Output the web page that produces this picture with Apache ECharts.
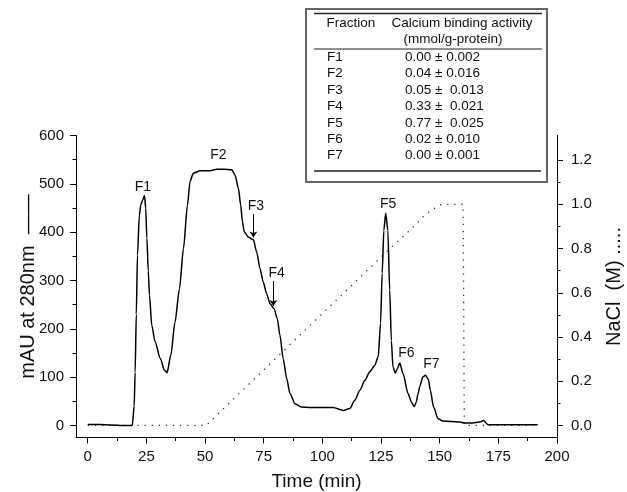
<!DOCTYPE html>
<html><head><meta charset="utf-8">
<script src="https://cdn.jsdelivr.net/npm/echarts@6/dist/echarts.min.js"></script>
<style>html,body{margin:0;padding:0;background:#fff}#c{width:627px;height:492px}</style>
</head><body><div id="c"></div>
<script>
// ---- data ----
const timeMin = [
  0, 5, 10, 15, 19, 19.8, 20.2, 20.7, 21.2, 22,
  22.6, 23.4, 24.2, 24.7, 25.2, 25.8, 26.3, 27.3, 28.7, 30.9,
  32.7, 33.8, 35.4, 37.2, 39.1, 40.8, 42.5, 43.6, 45, 47.9,
  52, 55, 58, 61.4, 62.8, 64.2, 65.2, 65.9, 66.7, 68.4,
  70.6, 72, 73.4, 74.8, 76.2, 77.7, 79.4, 80.8, 81.9, 83.3,
  84.8, 86.2, 88.3, 91.1, 95, 100, 104.6, 108.9, 111.7, 113.8,
  116, 118.1, 120.2, 122.3, 123.8, 124.8, 125.5, 126.2, 127, 127.9,
  128.7, 129.4, 130.1, 131.1, 132, 133, 134.4, 136.5, 138, 139.1,
  140, 140.8, 141.5, 142.8, 144, 145.2, 146, 147.4, 149.3, 151.4,
  155, 158.5, 160.6, 164, 167, 168.7, 170.6, 175, 180, 185, 191.8
];
const absorbance = [
  2, 2, 1, 0, 0, 40, 110, 230, 353, 435,
  456, 466, 476, 450, 388, 320, 270, 207, 173, 139,
  114, 109, 145, 214, 283, 366, 456, 505, 522, 527,
  527, 530, 530, 529, 518, 491, 456, 422, 401, 390,
  384, 359, 325, 297, 273, 252, 242, 221, 187, 138,
  97, 66, 45, 38, 37, 37, 37, 31, 35, 52,
  73, 93, 111, 124, 142, 211, 315, 404, 439, 404,
  280, 176, 121, 108, 118, 129, 107, 66, 48, 39,
  48, 66, 80, 100, 104, 95, 73, 38, 14, 9,
  8, 7, 5, 5, 7, 10, 1.5, 1.5, 1.5, 1.5, 1.5
];
const gradTime = [0, 50.5, 60, 70, 80, 90, 100, 110, 120, 130, 137, 140, 143, 146, 149, 151, 160, 160.5, 192];
const naclM    = [0, 0, 0.098, 0.2, 0.302, 0.404, 0.506, 0.608, 0.71, 0.812, 0.88, 0.91, 0.945, 0.97, 0.99, 1.0, 1.0, 0, 0];

const xMajorTicks = [0, 25, 50, 75, 100, 125, 150, 175, 200];
const xMinorTicks = [12.5, 37.5, 62.5, 87.5, 112.5, 137.5, 162.5, 187.5];
const leftMajorTicks = [0, 100, 200, 300, 400, 500, 600];
const leftMinorTicks = [50, 150, 250, 350, 450, 550];
const rightMajorTicks = [0, 0.2, 0.4, 0.6, 0.8, 1.0, 1.2];
const rightMinorTicks = [0.1, 0.3, 0.5, 0.7, 0.9, 1.1];

const fractionNames = ['F1', 'F2', 'F3', 'F4', 'F5', 'F6', 'F7'];
const bindingActivity = ['0.00 \u00b1 0.002', '0.04 \u00b1 0.016', '0.05 \u00b1  0.013', '0.33 \u00b1  0.021', '0.77 \u00b1  0.025', '0.02 \u00b1 0.010', '0.00 \u00b1 0.001'];
const peakNames = ['F1', 'F2', 'F3', 'F4', 'F5', 'F6', 'F7'];

// ---- build ----
const FONT = '"Liberation Sans", Arial, Helvetica, sans-serif';
const absData = timeMin.map((t, i) => [t, absorbance[i]]);
const gradData = gradTime.map((t, i) => [t, naclM[i]]);

const peakCoords = [[23.5, 494], [55.7, 560], [71.7, 453], [80.5, 315], [128, 458], [135.8, 150], [146.5, 126.5]];
const arrows = [
  [[70.6, 437], [70.6, 389]],
  [[79.1, 299], [79.1, 247]]
];

const axisTextStyle = { color: '#111', fontSize: 15, fontFamily: FONT };
const lineBlack = { lineStyle: { color: '#000', width: 1 } };

const gl = [];
// table box
gl.push({ type: 'rect', shape: { x: 306, y: 9, width: 241, height: 173 }, style: { fill: '#fff', stroke: '#666', lineWidth: 2 } });
gl.push({ type: 'line', shape: { x1: 314, y1: 13.5, x2: 542, y2: 13.5 }, style: { stroke: '#222', lineWidth: 1.5 } });
gl.push({ type: 'line', shape: { x1: 314, y1: 49, x2: 542, y2: 49 }, style: { stroke: '#222', lineWidth: 1.2 } });
gl.push({ type: 'line', shape: { x1: 314, y1: 171, x2: 541, y2: 171 }, style: { stroke: '#222', lineWidth: 1.5 } });
const tfs = 13.5;
gl.push({ type: 'text', x: 326.5, y: 23, style: { text: 'Fraction', fontSize: tfs, fontFamily: FONT, fill: '#111', verticalAlign: 'middle', align: 'left' } });
gl.push({ type: 'text', x: 462, y: 23, style: { text: 'Calcium binding activity', fontSize: tfs, fontFamily: FONT, fill: '#111', verticalAlign: 'middle', align: 'center' } });
gl.push({ type: 'text', x: 453, y: 39.5, style: { text: '(mmol/g-protein)', fontSize: tfs, fontFamily: FONT, fill: '#111', verticalAlign: 'middle', align: 'center' } });
fractionNames.forEach((f, i) => {
  const y = 57.3 + i * 16.4;
  gl.push({ type: 'text', x: 327, y: y, style: { text: f, fontSize: tfs, fontFamily: FONT, fill: '#111', verticalAlign: 'middle', align: 'left' } });
  gl.push({ type: 'text', x: 405, y: y, style: { text: bindingActivity[i], fontSize: tfs, fontFamily: FONT, fill: '#111', verticalAlign: 'middle', align: 'left' } });
});

const option = {
  animation: false,
  backgroundColor: '#fff',
  grid: { left: 76, right: 70, top: 135.5, bottom: 54.5, containLabel: false, outerBoundsMode: 'none' },
  xAxis: [
    {
      type: 'value', min: -5, max: 200, position: 'bottom',
      name: 'Time (min)', nameLocation: 'middle', nameGap: 35, nameMoveOverlap: false,
      nameTextStyle: { color: '#111', fontSize: 19, fontFamily: FONT },
      axisLine: { show: true, ...lineBlack, onZero: false },
      axisTick: { show: true, length: 6, customValues: xMajorTicks, ...lineBlack },
      axisLabel: { customValues: xMajorTicks, margin: 12, ...axisTextStyle },
      splitLine: { show: false }
    },
    {
      type: 'value', min: -5, max: 200, position: 'bottom',
      axisLine: { show: false, onZero: false },
      axisTick: { show: true, length: 3.5, customValues: xMinorTicks, ...lineBlack },
      axisLabel: { show: false },
      splitLine: { show: false }
    }
  ],
  yAxis: [
    {
      type: 'value', min: -25, max: 600, position: 'left',
      name: 'mAU at 280nm  \u2014\u2014', nameLocation: 'middle', nameGap: 38, nameMoveOverlap: false,
      nameTextStyle: { color: '#111', fontSize: 20, fontFamily: FONT },
      axisLine: { show: true, ...lineBlack, onZero: false },
      axisTick: { show: true, length: 6, customValues: leftMajorTicks, ...lineBlack },
      axisLabel: { customValues: leftMajorTicks, margin: 12, ...axisTextStyle },
      splitLine: { show: false }
    },
    {
      type: 'value', min: -0.0546, max: 1.3112, position: 'right',
      name: 'NaCl  (M) .....', nameLocation: 'middle', nameGap: 47, nameMoveOverlap: false,
      nameTextStyle: { color: '#111', fontSize: 20, fontFamily: FONT },
      axisLine: { show: true, ...lineBlack, onZero: false },
      axisTick: { show: true, length: 6, customValues: rightMajorTicks, ...lineBlack },
      axisLabel: { customValues: rightMajorTicks, margin: 14, formatter: v => v.toFixed(1), ...axisTextStyle },
      splitLine: { show: false }
    },
    {
      type: 'value', min: -25, max: 600, position: 'left',
      axisLine: { show: false, onZero: false },
      axisTick: { show: true, length: 3.5, customValues: leftMinorTicks, ...lineBlack },
      axisLabel: { show: false },
      splitLine: { show: false }
    },
    {
      type: 'value', min: -0.0546, max: 1.3112, position: 'right',
      axisLine: { show: false, onZero: false },
      axisTick: { show: true, length: 3.5, customValues: rightMinorTicks, ...lineBlack },
      axisLabel: { show: false },
      splitLine: { show: false }
    }
  ],
  series: [
    {
      name: 'NaCl', type: 'line', xAxisIndex: 0, yAxisIndex: 1,
      data: gradData, showSymbol: false, symbol: 'none',
      lineStyle: { color: '#333', width: 1.3, type: [1.3, 5.8], cap: 'butt' },
      z: 2
    },
    {
      name: 'A280', type: 'line', xAxisIndex: 0, yAxisIndex: 0,
      data: absData, showSymbol: false, symbol: 'none',
      smooth: 0.25, smoothMonotone: 'x',
      lineStyle: { color: '#000', width: 1.5 },
      z: 3,
      markPoint: {
        symbol: 'circle', symbolSize: 0, silent: true,
        label: { show: true, position: 'inside', formatter: p => p.name, color: '#111', fontSize: 14, fontFamily: FONT },
        data: peakNames.map((n, i) => ({ name: n, coord: peakCoords[i] }))
      },
      markLine: {
        silent: true, symbol: ['none', 'arrow'], symbolSize: 6,
        label: { show: false },
        lineStyle: { color: '#000', width: 1, type: 'solid' },
        itemStyle: { color: '#000' },
        data: arrows.map(a => [{ coord: a[0] }, { coord: a[1] }])
      }
    }
  ],
  graphic: gl
};
const chart = echarts.init(document.getElementById('c'), null, { renderer: 'canvas' });
chart.setOption(option);
</script>
</body></html>
